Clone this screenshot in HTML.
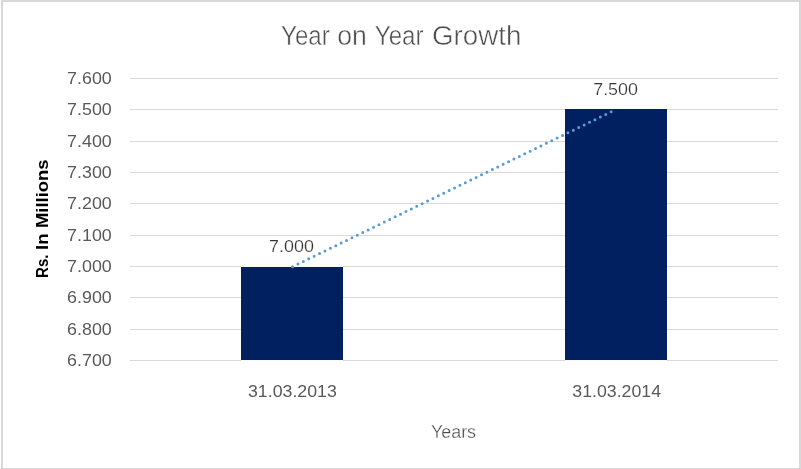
<!DOCTYPE html>
<html>
<head>
<meta charset="utf-8">
<title>Year on Year Growth</title>
<style>
html,body{margin:0;padding:0;background:#fff;}
body{width:801px;height:469px;overflow:hidden;}
svg{display:block;}
text{font-family:"Liberation Sans",sans-serif;}
.ax{font-size:16.5px;fill:#595959;}
.dl{font-size:16.5px;fill:#363636;stroke:#ffffff;stroke-width:0.2px;}
</style>
</head>
<body>
<svg width="801" height="469" viewBox="0 0 801 469">
<rect x="0" y="0" width="801" height="469" fill="#ffffff"/>
<!-- frame -->
<rect x="1" y="0" width="800" height="2" fill="#d9d9d9"/>
<rect x="1" y="0" width="2" height="469" fill="#d9d9d9"/>
<rect x="799" y="0" width="2" height="469" fill="#d9d9d9"/>
<rect x="1" y="468" width="800" height="1" fill="#d9d9d9"/>
<!-- gridlines -->
<g fill="#d9d9d9">
<rect x="130" y="78" width="648" height="1"/>
<rect x="130" y="109" width="648" height="1"/>
<rect x="130" y="141" width="648" height="1"/>
<rect x="130" y="172" width="648" height="1"/>
<rect x="130" y="203" width="648" height="1"/>
<rect x="130" y="235" width="648" height="1"/>
<rect x="130" y="266" width="648" height="1"/>
<rect x="130" y="297" width="648" height="1"/>
<rect x="130" y="329" width="648" height="1"/>
<rect x="130" y="360" width="648" height="1"/>
</g>
<rect x="241" y="266" width="102" height="1" fill="#fbfaf4"/>
<rect x="241" y="360" width="102" height="1" fill="#fbfaf4"/>
<rect x="565" y="360" width="102" height="1" fill="#fbfaf4"/>
<!-- bars -->
<rect x="241" y="267" width="102" height="93" fill="#002060"/>
<rect x="565" y="109" width="102" height="251" fill="#002060"/>
<!-- trend -->
<line x1="292.55" y1="266.65" x2="611.3" y2="111.68" stroke="#5b9bd5" stroke-width="3" stroke-linecap="round" stroke-dasharray="0 6.004"/>
<!-- title -->
<g font-size="27" fill="#4f4f4f" stroke="#ffffff" stroke-width="0.45">
<text x="281.1" y="45" textLength="48.6" lengthAdjust="spacingAndGlyphs">Year</text>
<text x="337.3" y="45" textLength="29.6" lengthAdjust="spacingAndGlyphs">on</text>
<text x="374.8" y="45" textLength="48.6" lengthAdjust="spacingAndGlyphs">Year</text>
<text x="432" y="45" textLength="89.3" lengthAdjust="spacingAndGlyphs">Growth</text>
</g>
<!-- y labels -->
<g class="ax" text-anchor="end">
<text x="111.8" y="83.6" textLength="44.7" lengthAdjust="spacingAndGlyphs">7.600</text>
<text x="111.8" y="114.6" textLength="44.7" lengthAdjust="spacingAndGlyphs">7.500</text>
<text x="111.8" y="146.6" textLength="44.7" lengthAdjust="spacingAndGlyphs">7.400</text>
<text x="111.8" y="177.6" textLength="44.7" lengthAdjust="spacingAndGlyphs">7.300</text>
<text x="111.8" y="208.6" textLength="44.7" lengthAdjust="spacingAndGlyphs">7.200</text>
<text x="111.8" y="240.6" textLength="44.7" lengthAdjust="spacingAndGlyphs">7.100</text>
<text x="111.8" y="271.6" textLength="44.7" lengthAdjust="spacingAndGlyphs">7.000</text>
<text x="111.8" y="302.6" textLength="44.7" lengthAdjust="spacingAndGlyphs">6.900</text>
<text x="111.8" y="334.6" textLength="44.7" lengthAdjust="spacingAndGlyphs">6.800</text>
<text x="111.8" y="365.6" textLength="44.7" lengthAdjust="spacingAndGlyphs">6.700</text>
</g>
<!-- data labels -->
<g class="dl" text-anchor="middle">
<text x="291.5" y="251.9" textLength="44.8" lengthAdjust="spacingAndGlyphs">7.000</text>
<text x="615.6" y="94.9" textLength="44.8" lengthAdjust="spacingAndGlyphs">7.500</text>
</g>
<!-- x labels -->
<g class="ax" text-anchor="middle">
<text x="292.4" y="397.3" textLength="88.8" lengthAdjust="spacingAndGlyphs">31.03.2013</text>
<text x="616.7" y="397.3" textLength="88.7" lengthAdjust="spacingAndGlyphs">31.03.2014</text>
<text x="453.5" y="437.6" font-size="18" fill="#4a4a4a" stroke="#ffffff" stroke-width="0.3" textLength="45.2" lengthAdjust="spacingAndGlyphs">Years</text>
</g>
<!-- y title -->
<g font-size="17" font-weight="bold" fill="#000000">
<text transform="translate(48.3,278) rotate(-90)" textLength="23.5" lengthAdjust="spacingAndGlyphs">Rs.</text>
<text transform="translate(48.3,249.9) rotate(-90)" textLength="16.5" lengthAdjust="spacingAndGlyphs">In</text>
<text transform="translate(48.3,228.1) rotate(-90)" textLength="68.7" lengthAdjust="spacingAndGlyphs">Millions</text>
</g>
</svg>
</body>
</html>
